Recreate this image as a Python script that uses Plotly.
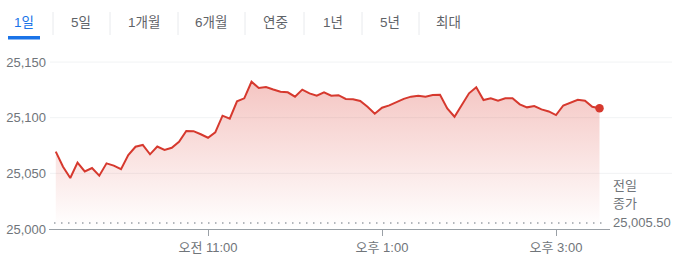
import plotly.graph_objects as go
import pandas as pd

# ---- data ----
start_time = "2024-01-01 09:15"
interval_minutes = 5
values = [
    25069.5, 25056.0, 25045.8, 25059.6, 25051.7, 25054.8, 25047.9, 25059.0, 25056.9, 25053.7,
    25066.5, 25073.9, 25075.5, 25067.1, 25074.1, 25071.0, 25073.0, 25078.4, 25088.1, 25087.9,
    25085.1, 25082.0, 25086.9, 25101.8, 25099.1, 25114.7, 25117.4, 25132.3, 25126.7, 25127.6,
    25125.3, 25123.3, 25122.8, 25118.9, 25125.2, 25121.9, 25119.8, 25122.8, 25119.7, 25120.2,
    25116.8, 25116.5, 25115.0, 25109.9, 25103.6, 25109.0, 25111.1, 25114.1, 25116.9, 25118.9,
    25119.8, 25118.8, 25120.4, 25120.5, 25108.4, 25100.9, 25111.4, 25121.9, 25127.3, 25115.9,
    25117.4, 25115.3, 25117.5, 25117.4, 25112.0, 25109.3, 25110.5, 25107.5, 25105.6, 25102.4,
    25111.0, 25113.2, 25116.1, 25115.3, 25109.8, 25108.4,
]
times = pd.date_range(start_time, periods=len(values), freq=f"{interval_minutes}min")
prev_close = 25005.50
prev_close_label = ["전일", "종가", "25,005.50"]
y_ticks = [25000, 25050, 25100, 25150]
y_tick_text = ["25,000", "25,050", "25,100", "25,150"]
x_ticks = ["2024-01-01 11:00", "2024-01-01 13:00", "2024-01-01 15:00"]
x_tick_text = ["오전 11:00", "오후 1:00", "오후 3:00"]
tabs = ["1일", "5일", "1개월", "6개월", "연중", "1년", "5년", "최대"]

# ---- layout geometry (pixels) ----
W, H = 680, 260
ML, MR, MT, MB = 49, 70, 50, 31
PW, PH = W - ML - MR, H - MT - MB
def px(x):
    return (x - ML) / PW
def py(y):
    return (H - MB - y) / PH

RED = "#d6392e"
GRAY_TEXT = "#70757a"
FONT = "Liberation Sans, Arial, Noto Sans CJK KR, sans-serif"

fig = go.Figure()
fig.add_trace(go.Scatter(
    x=times, y=values, mode="lines",
    line=dict(color=RED, width=2),
    fill="tozeroy",
    fillgradient=dict(type="vertical",
                      colorscale=[[0, "rgba(217,48,37,0)"], [1, "rgba(217,48,37,0.28)"]],
                      start=y_ticks[0], stop=max(values)),
    hoverinfo="skip", showlegend=False,
))
fig.add_trace(go.Scatter(
    x=[times[-1]], y=[values[-1]], mode="markers",
    marker=dict(color=RED, size=8.5), hoverinfo="skip", showlegend=False,
))

shapes = []
# horizontal gridlines extending to the right
for v in y_ticks[1:]:
    shapes.append(dict(type="line", xref="paper", yref="y", x0=px(50), x1=px(672), y0=v, y1=v,
                       line=dict(color="#f1f3f4", width=1), layer="below"))
# previous close dotted line
shapes.append(dict(type="line", xref="paper", yref="y", x0=px(54), x1=px(607), y0=prev_close, y1=prev_close,
                   line=dict(color="#9aa0a6", width=1.5, dash="1.5px,5.5px")))
# tab dividers
for dx in [53, 110, 178, 245, 304, 362, 419]:
    shapes.append(dict(type="line", xref="paper", yref="paper", x0=px(dx), x1=px(dx), y0=py(12), y1=py(35),
                       line=dict(color="#e8eaed", width=1)))
# active tab underline
shapes.append(dict(type="rect", xref="paper", yref="paper", x0=px(8), x1=px(40), y0=py(39.5), y1=py(36),
                   fillcolor="#1a73e8", line=dict(width=0)))

annotations = []
tab_centers = [23.7, 81, 144, 210.5, 275, 333, 390, 448.5]
for i, (t, cx) in enumerate(zip(tabs, tab_centers)):
    annotations.append(dict(text=t, xref="paper", yref="paper", x=px(cx), y=py(22.5),
                            xanchor="center", yanchor="middle", showarrow=False,
                            font=dict(family=FONT, size=13.5, color="#1a73e8" if i == 0 else "#5f6368")))
for j, line in enumerate(prev_close_label):
    annotations.append(dict(text=line, xref="paper", yref="paper", x=px(611), y=py(185 + 18.7 * j),
                            xanchor="left", yanchor="middle", showarrow=False,
                            font=dict(family=FONT, size=13, color=GRAY_TEXT)))

fig.update_layout(
    template="none",
    width=W, height=H,
    margin=dict(l=ML, r=MR, t=MT, b=MB, pad=0),
    paper_bgcolor="white", plot_bgcolor="white",
    font=dict(family=FONT, size=13, color=GRAY_TEXT),
    shapes=shapes, annotations=annotations,
    xaxis=dict(type="date", range=["2024-01-01 09:10:20", "2024-01-01 15:37:14"],
               tickvals=x_ticks, ticktext=x_tick_text, automargin=False,
               showgrid=False, zeroline=False,
               showline=True, linecolor="#9aa0a6", linewidth=1,
               ticks="outside", ticklen=6, tickcolor="#9aa0a6", tickwidth=1,
               tickfont=dict(family=FONT, size=13, color=GRAY_TEXT), fixedrange=True),
    yaxis=dict(range=[25000, 25000 + PH / 1.113], automargin=False,
               tickvals=y_ticks, ticktext=y_tick_text,
               showgrid=False, zeroline=False, showline=False,
               ticks="", ticklabelstandoff=2,
               tickfont=dict(family=FONT, size=13, color=GRAY_TEXT), fixedrange=True),
)

fig.write_html("out.html")
